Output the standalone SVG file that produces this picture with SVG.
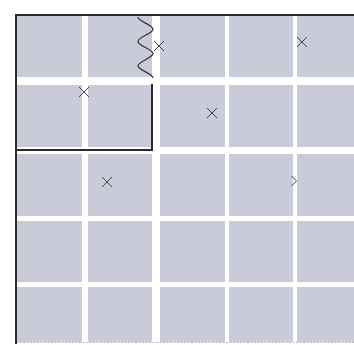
<svg xmlns="http://www.w3.org/2000/svg" width="354" height="345" viewBox="0 0 354 345">
<style>
.cell{fill:#cacbd8}
.frame{stroke:#2a2a2a;fill:none;stroke-width:2}
.mark{stroke:#444;stroke-width:1;fill:none}
.wave{stroke:#333;stroke-width:1.2;fill:none}
</style>
<defs>
<path id="x" class="mark" d="M-5,-5 L5,5 M-5,5 L5,-5"/>
</defs>
<rect width="354" height="345" fill="#fff"/>
<g id="cells">
<g id="row1">
<rect class="cell" x="17" y="16" width="65" height="61"/>
<rect class="cell" x="88" y="16" width="64" height="61"/>
<rect class="cell" x="160" y="16" width="65" height="61"/>
<rect class="cell" x="229" y="16" width="64" height="61"/>
<rect class="cell" x="297" y="16" width="57" height="61"/>
</g>
<g id="row2">
<rect class="cell" x="17" y="85" width="65" height="62"/>
<rect class="cell" x="88" y="85" width="64" height="62"/>
<rect class="cell" x="160" y="85" width="65" height="62"/>
<rect class="cell" x="229" y="85" width="64" height="62"/>
<rect class="cell" x="297" y="85" width="57" height="62"/>
</g>
<g id="row3">
<rect class="cell" x="17" y="154" width="65" height="62"/>
<rect class="cell" x="88" y="154" width="64" height="62"/>
<rect class="cell" x="160" y="154" width="65" height="62"/>
<rect class="cell" x="229" y="154" width="64" height="62"/>
<rect class="cell" x="297" y="154" width="57" height="62"/>
</g>
<g id="row4">
<rect class="cell" x="17" y="221" width="65" height="61"/>
<rect class="cell" x="88" y="221" width="64" height="61"/>
<rect class="cell" x="160" y="221" width="65" height="61"/>
<rect class="cell" x="229" y="221" width="64" height="61"/>
<rect class="cell" x="297" y="221" width="57" height="61"/>
</g>
<g id="row5">
<rect class="cell" x="17" y="287" width="65" height="55"/>
<rect class="cell" x="88" y="287" width="64" height="55"/>
<rect class="cell" x="160" y="287" width="65" height="55"/>
<rect class="cell" x="229" y="287" width="64" height="55"/>
<rect class="cell" x="297" y="287" width="57" height="55"/>
</g>
</g>
<line x1="16" y1="342.5" x2="354" y2="342.5" stroke="#b8b9c6" stroke-width="1.2" stroke-dasharray="2 1.5"/>
<g id="frame">
<path class="frame" d="M16,344 V15 H354" stroke-width="1.6"/>
<path class="frame" d="M152,84 V150 H16"/>
</g>
<path id="wave" class="wave" d="M138,17 C138,21.4 153,24.8 153,29.2 C153,33.6 138,37 138,41.4 C138,45.8 153,49.2 153,53.6 C153,58 138,61.4 138,65.8 C138,70.2 153,73.6 153,78"/>
<g id="marks">
<use href="#x" x="159" y="46"/>
<use href="#x" x="84" y="92"/>
<use href="#x" x="302" y="42"/>
<use href="#x" x="212" y="113"/>
<use href="#x" x="107" y="182"/>
<path class="mark" d="M291.5,176 L296.5,181 L291.5,186"/>
</g>
</svg>
